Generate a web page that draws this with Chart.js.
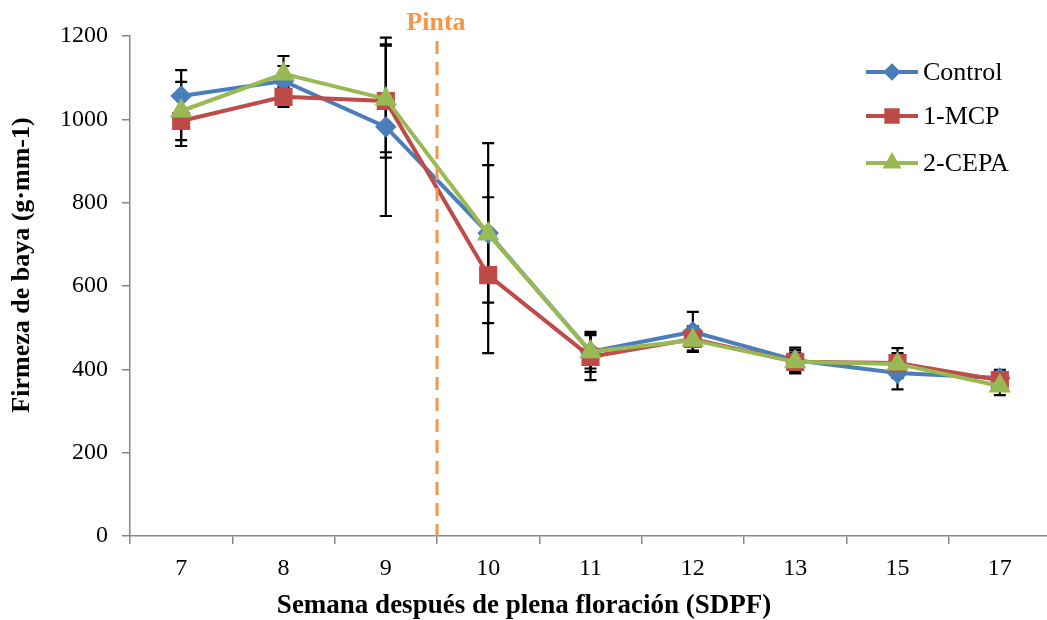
<!DOCTYPE html>
<html><head><meta charset="utf-8">
<script src="https://cdn.jsdelivr.net/npm/chart.js@4.4.1/dist/chart.umd.min.js"></script>
<style>html,body{margin:0;padding:0;background:#fff;overflow:hidden}#wrap{width:1047px;height:620px;position:relative;overflow:hidden}canvas{display:block}</style>
</head><body><div id="wrap"><canvas id="c" width="1051" height="620"></canvas></div>
<script>
const categories = ['7','8','9','10','11','12','13','15','17'];
const controlVals = [1056,1092,982,727,442,490,422,391,379];
const mcpVals     = [996,1054,1044,626,430,473,418,415,374];
const cepaVals    = [1020,1109,1049,725,442,470,418,413,360];
const controlErr  = [62,36,214,216,48,48,30,39,20];
const mcpErr      = [60,24,136,187,56,30,28,36,20];
const cepaErr     = [70,43,128,165,40,25,22,26,22];
const seriesNames = ['Control','1-MCP','2-CEPA'];
const xTitle = 'Semana después de plena floración (SDPF)';
const yTitle = 'Firmeza de baya (g·mm-1)';
const pintaLabel = 'Pinta';
const pintaAfterIndex = 2; // line between week 9 and 10

const FONT = '"Liberation Serif","Times New Roman",serif';
const AXIS = '#868686';

const errorBars = {
  id:'errorBars',
  beforeDatasetsDraw(chart){
    const {ctx, scales:{x,y}} = chart;
    ctx.save();
    ctx.strokeStyle = '#000'; ctx.lineWidth = 2.2;
    chart.data.datasets.forEach(ds=>{
      ds.data.forEach((v,i)=>{
        const e = ds.errors[i];
        const px = x.getPixelForValue(i);
        const t = y.getPixelForValue(v+e), b = y.getPixelForValue(v-e);
        ctx.beginPath();
        ctx.moveTo(px,t); ctx.lineTo(px,b);
        ctx.moveTo(px-6,t); ctx.lineTo(px+6,t);
        ctx.moveTo(px-6,b); ctx.lineTo(px+6,b);
        ctx.stroke();
      });
    });
    ctx.restore();
  }
};

const pinta = {
  id:'pinta',
  afterDatasetsDraw(chart){
    const {ctx, scales:{x,y}, chartArea} = chart;
    const px = (x.getPixelForValue(pintaAfterIndex)+x.getPixelForValue(pintaAfterIndex+1))/2;
    ctx.save();
    ctx.strokeStyle = '#F79646'; ctx.lineWidth = 3;
    ctx.setLineDash([13,8]);
    ctx.beginPath(); ctx.moveTo(px, chartArea.top+5); ctx.lineTo(px, y.getPixelForValue(0)); ctx.stroke();
    ctx.setLineDash([]);
    ctx.fillStyle = '#F79646'; ctx.font = 'bold 26px '+FONT;
    ctx.textAlign='center'; ctx.textBaseline='middle';
    ctx.fillText(pintaLabel, px-1, 23);
    ctx.restore();
  }
};

const titles = {
  id:'titles',
  afterDraw(chart){
    const {ctx} = chart;
    ctx.save();
    ctx.fillStyle='#000'; ctx.textAlign='center'; ctx.textBaseline='middle';
    ctx.font = 'bold 27px '+FONT;
    ctx.fillText(xTitle, 524, 606);
    ctx.translate(22, 265); ctx.rotate(-Math.PI/2);
    ctx.font = 'bold 26px '+FONT;
    ctx.fillText(yTitle, 0, 0);
    ctx.restore();
  }
};

const legendPlug = {
  id:'legendPlug',
  afterDraw(chart){
    const {ctx} = chart;
    const ys = [72,116,163];
    ctx.save();
    chart.data.datasets.forEach((ds,i)=>{
      const yy = ys[i];
      ctx.strokeStyle = ds.borderColor; ctx.lineWidth = 4;
      ctx.beginPath(); ctx.moveTo(866,yy); ctx.lineTo(918,yy); ctx.stroke();
      ctx.fillStyle = ds.borderColor;
      ctx.strokeStyle = ds.borderColor;
      Chart.helpers.drawPoint(ctx,{pointStyle:ds.pointStyle, radius: ds.legendRadius, borderWidth:1, rotation:0}, 892, yy);
      ctx.fillStyle = '#000'; ctx.font = '26px '+FONT;
      ctx.textAlign='left'; ctx.textBaseline='middle';
      ctx.fillText(ds.label, 923, yy+1);
    });
    ctx.restore();
  }
};

function mk(label, data, errs, color, style, r, lr, order){
  return {label, data, errors:errs, borderColor:color, backgroundColor:color,
    pointBackgroundColor:color, pointBorderColor:color, pointStyle:style,
    pointRadius:r, pointHoverRadius:r, borderWidth:4, tension:0, legendRadius:lr, clip:false, order};
}

new Chart(document.getElementById('c'),{
  type:'line',
  data:{labels:categories, datasets:[
    mk(seriesNames[0], controlVals, controlErr, '#4A7EBB','rectRot',8,6,3),
    mk(seriesNames[1], mcpVals, mcpErr, '#BE4B48','rect',10,8,2),
    mk(seriesNames[2], cepaVals, cepaErr, '#98B954','triangle',9,7,1)
  ]},
  options:{
    responsive:false, animation:false, devicePixelRatio:1,
    layout:{autoPadding:false, padding:{top:36,right:0,left:0,bottom:0}},
    plugins:{legend:{display:false}, tooltip:{enabled:false}},
    scales:{
      x:{
        offset:true,
        grid:{offset:true, drawOnChartArea:false, tickLength:8, color:AXIS, lineWidth:1.5},
        border:{color:AXIS, width:1.5},
        ticks:{color:'#000', font:{family:FONT,size:24}, padding:10, maxRotation:0},
        afterFit(s){ s.height = 84; s.paddingLeft = 0; s.paddingRight = 0; }
      },
      y:{
        min:0, max:1200,
        ticks:{stepSize:200, color:'#000', font:{family:FONT,size:24}, padding:14, callback:v=>String(v)},
        grid:{drawOnChartArea:false, tickLength:8, color:AXIS, lineWidth:1.5},
        border:{color:AXIS, width:1.5},
        afterFit(s){ s.width = 130; }
      }
    }
  },
  plugins:[errorBars, pinta, titles, legendPlug]
});
</script></body></html>
